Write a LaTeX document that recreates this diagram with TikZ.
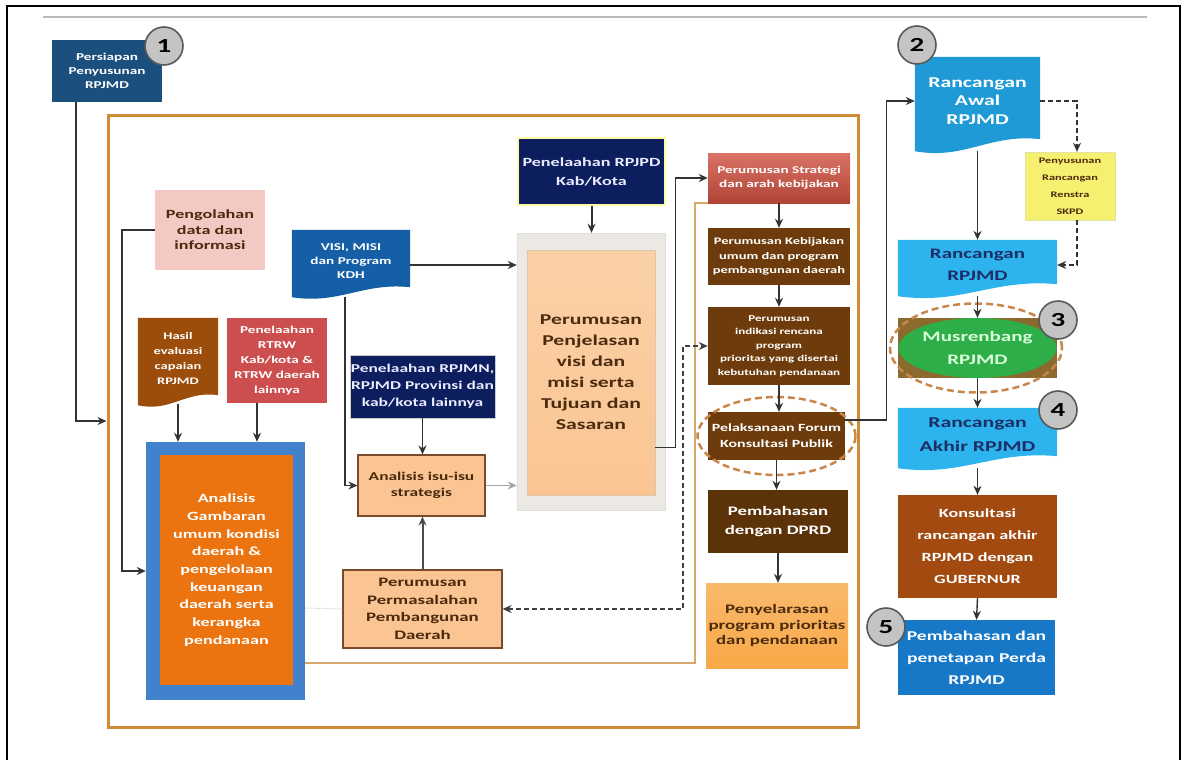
\documentclass[tikz,border=0pt]{standalone}
\usepackage{fontspec}
\setmainfont{Carlito}[FakeStretch=1.45]
\usetikzlibrary{arrows.meta,calc,shapes.geometric,backgrounds}
\definecolor{navyA}{HTML}{1B4F7E}
\definecolor{navyB}{HTML}{0C1E5E}
\definecolor{visiblue}{HTML}{145FA6}
\definecolor{pinkbox}{HTML}{F4C9C4}
\definecolor{hasilbrown}{HTML}{9C4D0C}
\definecolor{rtrwred}{HTML}{CC4E4E}
\definecolor{anblue}{HTML}{4282CC}
\definecolor{anorange}{HTML}{EB7410}
\definecolor{peach}{HTML}{FAC592}
\definecolor{peachedge}{HTML}{7A4B2B}
\definecolor{stratred}{HTML}{CF5040}
\definecolor{brownA}{HTML}{6E3C0C}
\definecolor{brownB}{HTML}{5C3209}
\definecolor{penyorange}{HTML}{F8A847}
\definecolor{rawalblue}{HTML}{1F9AD6}
\definecolor{yel}{HTML}{F6F070}
\definecolor{cyanbox}{HTML}{2DB4EE}
\definecolor{musbox}{HTML}{8C6A2E}
\definecolor{musgreen}{HTML}{2EAE48}
\definecolor{konsbrown}{HTML}{A24A10}
\definecolor{perdablue}{HTML}{1878C8}
\definecolor{badgegray}{HTML}{C4C4C4}
\definecolor{frameor}{HTML}{CF8B38}
\definecolor{tanline}{HTML}{D8A76C}
\definecolor{elldash}{HTML}{C8864A}
\definecolor{darktext}{HTML}{4B2A0E}
\definecolor{navytext}{HTML}{1B2E66}
\definecolor{shadowbg}{HTML}{ECE8E4}
\newcommand\fsz[2]{\fontsize{#1}{#2}\selectfont}
\newcommand\docfill[3]{%
  \begin{pgfonlayer}{background}
  \fill[#2] (#1.north west) -- (#1.north east) -- ($(#1.south east)+(0,-#3)$)
    .. controls ($(#1.south east)!0.4!(#1.south west)+(0,-2*#3)$) and ($(#1.south east)!0.6!(#1.south west)+(0,2.5*#3)$)
    .. ($(#1.south west)+(0,#3)$) -- cycle;
  \end{pgfonlayer}}
\begin{document}
\begin{tikzpicture}[x=1pt,y=-1pt,
  box/.style={rectangle,inner sep=0pt,align=center,font=\bfseries},
  arr/.style={draw=black!80,line width=1.4pt,-{Stealth[length=9pt,width=8pt]}},
  arrgray/.style={draw=gray!70,line width=1.4pt,-{Stealth[length=9pt,width=8pt]}},
  darr/.style={draw=black!80,line width=1.4pt,dash pattern=on 5pt off 3pt,-{Stealth[length=9pt,width=8pt]}},
  badge/.style={circle,fill=badgegray,draw=black!65,line width=1.6pt,minimum size=38pt,inner sep=0pt,font=\bfseries\fsz{20}{20}},
  dellipse/.style={ellipse,draw=elldash,line width=2.5pt,dash pattern=on 7pt off 4pt,inner sep=0pt},
]
\useasboundingbox (0,0) rectangle (1183,760);
% outer black border and top line
\draw[line width=2pt] (7,760) -- (7,6) -- (1180,6) -- (1180,760);
\draw[line width=2.5pt,gray!55] (43,17) -- (1147,17);

% big frame
\node[rectangle,draw=frameor,line width=3pt,minimum width=750pt,minimum height=612pt,inner sep=0pt] (frame) at (483,421) {};

% left part
\node[box,fill=navyA,text=white,minimum width=110pt,minimum height=62pt,font=\bfseries\fsz{10.5}{14}] (p) at (107,71) {Persiapan\\Penyusunan\\RPJMD};
\node[box,fill=pinkbox,text=darktext,minimum width=110pt,minimum height=80pt,font=\bfseries\fsz{12.5}{15.5}] (peng) at (210,230) {Pengolahan\\data dan\\informasi};
\node[box,text=white,minimum width=118pt,minimum height=62pt,font=\bfseries\fsz{10.5}{14}] (visi) at (351,261) {VISI, MISI\\dan Program\\KDH};
\docfill{visi}{visiblue}{5}
\node[box,fill=navyB,draw=yellow!35,line width=1.5pt,text=blue!8,minimum width=147pt,minimum height=67pt,font=\bfseries\fsz{12.5}{19}] (rpjpd) at (591.5,171.5) {Penelaahan RPJPD\\Kab/Kota};
\node[box,fill=shadowbg,draw=gray!25,minimum width=148pt,minimum height=277pt] (penjbg) at (591,371.5) {};
\node[box,top color=peach!80,bottom color=peach,draw=peach!80!black!60,text=darktext,minimum width=128pt,minimum height=245pt,font=\bfseries\fsz{15}{21}] (penj) at (591,372.5) {Perumusan\\Penjelasan\\visi dan\\misi serta\\Tujuan dan\\Sasaran};
\node[box,fill=navyB,draw=gray!40,text=blue!8,minimum width=145pt,minimum height=63pt,font=\bfseries\fsz{12}{17}] (rpjmn) at (422.5,386.5) {Penelaahan RPJMN,\\RPJMD Provinsi dan\\kab/kota lainnya};
\node[box,fill=peach,draw=peachedge,line width=1.2pt,text=darktext,minimum width=127pt,minimum height=61pt,font=\bfseries\fsz{12}{16}] (isu) at (421.5,485.5) {Analisis isu-isu\\strategis};
\node[box,fill=peach,draw=peachedge,line width=1.2pt,text=darktext,minimum width=159pt,minimum height=78pt,font=\bfseries\fsz{13}{17.5}] (masalah) at (422.5,609) {Perumusan\\Permasalahan\\Pembangunan\\Daerah};
\node[box,text=white,minimum width=80pt,minimum height=82pt,font=\bfseries\fsz{10}{15}] (hasil) at (178,359) {Hasil\\evaluasi\\capaian\\RPJMD};
\docfill{hasil}{hasilbrown}{5}
\node[box,fill=rtrwred,text=white,minimum width=100pt,minimum height=85pt,font=\bfseries\fsz{10.5}{15}] (rtrw) at (277,360.5) {Penelaahan\\RTRW\\Kab/kota \&\\RTRW daerah\\lainnya};
\node[box,fill=anblue,minimum width=159pt,minimum height=258pt] (anOuter) at (225.5,571) {};
\node[box,fill=anorange,text=white,minimum width=133pt,minimum height=230pt,font=\bfseries\fsz{12.5}{17.7}] (anInner) at (226.5,570) {Analisis\\Gambaran\\umum kondisi\\daerah \&\\pengelolaan\\keuangan\\daerah serta\\kerangka\\pendanaan};

% middle column
\node[box,top color=stratred!80!white,bottom color=stratred!85!black,text=white,minimum width=142pt,minimum height=50pt,font=\bfseries\fsz{10.5}{14}] (strat) at (779,178) {Perumusan Strategi\\dan arah kebijakan};
\node[box,fill=brownA,text=white,minimum width=142pt,minimum height=57pt,font=\bfseries\fsz{10}{14.5}] (kebij) at (779,256.5) {Perumusan Kebijakan\\umum dan program\\pembangunan daerah};
\node[box,fill=brownA,text=white,minimum width=142pt,minimum height=78pt,font=\bfseries\fsz{9}{13.5}] (indik) at (779,346) {Perumusan\\indikasi rencana\\program\\prioritas yang disertai\\kebutuhan pendanaan};
\node[box,fill=brownA,text=white,minimum width=137pt,minimum height=48pt,font=\bfseries\fsz{11}{16}] (pelak) at (776.5,436) {Pelaksanaan Forum\\Konsultasi Publik};
\node[dellipse,minimum width=158pt,minimum height=78pt] (pelakEll) at (776.5,436) {};
\node[box,fill=brownB,text=white,minimum width=140pt,minimum height=63pt,font=\bfseries\fsz{13}{19}] (dprd) at (778,521.5) {Pembahasan\\dengan DPRD};
\node[box,top color=penyorange!80,bottom color=penyorange,text=darktext,minimum width=142pt,minimum height=85pt,font=\bfseries\fsz{13}{15.5}] (penyel) at (777,625.5) {Penyelarasan\\program prioritas\\dan pendanaan};

% right column
\node[box,text=white,minimum width=125pt,minimum height=88pt,font=\bfseries\fsz{15}{18.3}] (rawal) at (977.5,101) {Rancangan\\Awal\\RPJMD};
\docfill{rawal}{rawalblue}{6}
\node[box,fill=yel,draw=yellow!70!black!40,text=darktext,minimum width=90pt,minimum height=68pt,font=\bfseries\fsz{8.5}{17}] (renstra) at (1070,186) {Penyusunan\\Rancangan\\Renstra\\SKPD};
\node[box,text=navytext,minimum width=159pt,minimum height=50pt,font=\bfseries\fsz{14.5}{22}] (rrpjmd) at (977.5,265) {Rancangan\\RPJMD};
\docfill{rrpjmd}{cyanbox}{6}
\node[box,fill=musbox,minimum width=159pt,minimum height=60pt] (musbg) at (977.5,348) {};
\node[ellipse,fill=musgreen,text=green!15,inner sep=0pt,minimum width=158pt,minimum height=60pt,align=center,font=\bfseries\fsz{14.5}{23}] (musren) at (977.5,348) {Musrenbang\\RPJMD};
\node[dellipse,minimum width=172pt,minimum height=89pt] (musEll) at (976,348) {};
\node[box,text=navytext,minimum width=159pt,minimum height=54pt,font=\bfseries\fsz{15}{24}] (rakhir) at (977.5,435) {Rancangan\\Akhir RPJMD};
\docfill{rakhir}{cyanbox}{6}
\node[box,fill=konsbrown,text=white,minimum width=159pt,minimum height=103pt,font=\bfseries\fsz{12.5}{22}] (konsul) at (977.5,546.5) {Konsultasi\\rancangan akhir\\RPJMD dengan\\GUBERNUR};
\node[box,fill=perdablue,text=white,minimum width=157pt,minimum height=75pt,font=\bfseries\fsz{13.5}{22}] (perda) at (976.5,657.5) {Pembahasan dan\\penetapan Perda\\RPJMD};

% badges
\node[badge] (b1) at (164,46) {1};
\node[badge] (b2) at (917,45) {2};
\node[badge] (b3) at (1058,320) {3};
\node[badge] (b4) at (1058,410) {4};
\node[badge] (b5) at (886,627) {5};

% connectors
\draw[arr] ([xshift=-31pt]p.south) |- (frame.west);
\draw[arr] (peng.west) -- ++(-33,0) |- (anOuter.west);
\draw[arr] ([yshift=-4pt]hasil.south) -- (hasil.south |- anOuter.north);
\coordinate (r4) at ([xshift=-20pt]rtrw.south);
\draw[arr] (r4) -- (r4 |- anOuter.north);
\draw[arr,line width=2.2pt] ([yshift=-4pt]visi.east) -- ([yshift=-4pt]visi.east -| penjbg.west);
\coordinate (v6) at ([xshift=-6pt,yshift=-5pt]visi.south);
\draw[arr] (v6) |- (isu.west);
\draw[arr] (rpjmn.south) -- (rpjmn.south |- isu.north);
\draw[arr,draw=black!70,line width=2pt] (masalah.north) -- (masalah.north |- isu.south);
\draw[arrgray] (isu.east) -- (isu.east -| penjbg.west);
\draw[arr,line width=2pt] (rpjpd.south) -- (rpjpd.south |- penjbg.north);
\draw[arr] ([yshift=-75pt]penj.east) -- ++(20,0) |- (strat.west);
\draw[draw=tanline,line width=2.2pt] ([yshift=-92pt]anOuter.east) -- ++(390,0) |- (strat.south west);
\draw[draw=black!75,line width=1.4pt,dash pattern=on 5pt off 3pt,{Stealth[length=9pt,width=8pt]}-{Stealth[length=9pt,width=8pt]}] (masalah.east) -| ([xshift=-25pt]indik.west) -- (indik.west);
\draw[draw=gray!35,line width=1pt,densely dotted] ([yshift=-37pt]anOuter.east) -- (masalah.west);
\draw[arr] (strat.south) -- (kebij.north);
\draw[arr] (kebij.south) -- (indik.north);
\draw[arr] (indik.south) -- (indik.south |- pelak.north);
\draw[arr] (pelak.south) -- (pelak.south |- dprd.north);
\draw[arr] (dprd.south) -- (dprd.south |- penyel.north);
\draw[arr] ([yshift=16pt]pelak.east) -- ++(41,0) |- (rawal.west);
\coordinate (rn) at ([xshift=7pt]renstra.north);
\coordinate (rs) at ([xshift=7pt]renstra.south);
\draw[darr] (rawal.east) -| (rn);
\draw[darr] (rs) |- (rrpjmd.east);
\draw[arr] ([yshift=-6pt]rawal.south) -- (rrpjmd.north);
\draw[arr] ([yshift=-6pt]rrpjmd.south) -- (musbg.north);
\draw[arr] (musbg.south) -- (rakhir.north);
\draw[arr] ([yshift=-6pt]rakhir.south) -- (konsul.north);
\draw[arr] (konsul.south) -- (perda.north);
\end{tikzpicture}
\end{document}
